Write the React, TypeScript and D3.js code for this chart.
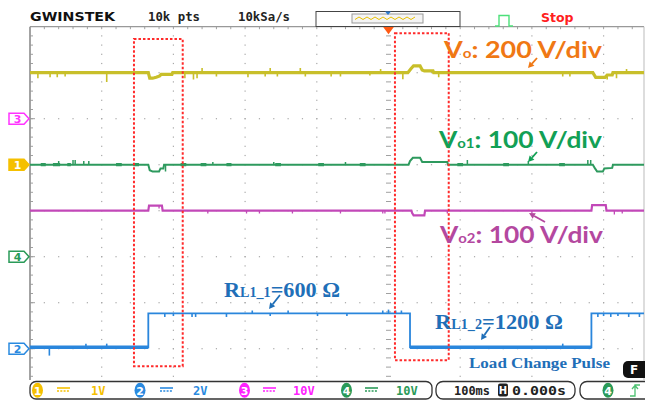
import React from 'react';
import * as d3 from 'd3';

// scope screen: 100 ms/div, trigger at centre, 8 vertical divisions
const timeDomain = [-500, 500];
const divDomain = [-4, 4];
const gridTimes = [-400, -300, -200, -100, 0, 100, 200, 300];
const gridLevels = [-3, -2, -1, 0, 1, 2, 3];

// traces as [time ms, level div]
const voTrace = [[-500, 3], [-335, 3], [-333, 2.88], [-329, 2.88], [-324, 2.9], [-319, 2.93], [-317, 2.965], [-302, 2.965], [-301, 3], [27, 3], [31, 3.08], [35, 3.15], [44, 3.15], [47, 3.06], [50, 3.04], [62, 3.04], [63, 3], [285, 3], [289, 2.9], [302, 2.9], [305, 2.95], [312, 2.95], [313, 3], [500, 3]];
const vo1Trace = [[-500, 1], [-335, 1], [-333, 0.88], [-329, 0.85], [-320, 0.85], [-318, 0.92], [-314, 0.92], [-313, 1], [28, 1], [30, 1.08], [34, 1.15], [44, 1.15], [47, 1.06], [82, 1.06], [83, 1], [285, 1], [288, 0.92], [291, 0.85], [299, 0.85], [301, 0.92], [312, 0.93], [313, 1], [500, 1]];
const vo2Trace = [[-500, 0], [-335, 0], [-334, 0.11], [-316, 0.11], [-315, 0], [32, 0], [33, -0.05], [35, -0.1], [50, -0.1], [51, 0], [283, 0], [284, 0.12], [303, 0.12], [304, 0], [500, 0]];
const loadTrace = [[-500, -2.97], [-335, -2.97], [-335, -2.23], [30, -2.23], [30, -2.97], [283, -2.97], [283, -2.23], [500, -2.23]];

// glitches on the traces: [time ms, height div]
const voSpikes = [[-489, -0.12], [-472, -0.1], [-462, -0.1], [-451, -0.08], [-393, -0.2], [-284, -0.12], [-272, -0.15], [-267, -0.12], [-260, 0.1], [-240, -0.08], [-196, -0.1], [-172, -0.08], [-165, 0.1], [-155, -0.08], [-123, 0.1], [-116, -0.08], [-80, -0.08], [-67, -0.08], [-26, -0.06], [-11, 0.08], [20, -0.14], [70, -0.1], [243, -0.08], [253, -0.08], [305, -0.1], [318, -0.12], [332, 0.08]];
const vo1Spikes = [[-460, 0.08], [-440, 0.1], [-437, 0.1], [-425, 0.08], [-418, 0.08], [-311, -0.15], [-245, 0.06], [-160, 0.06], [-60, 0.06], [110, 0.1], [195, 0.08], [278, 0.1], [282, 0.1]];
const vo2Spikes = [[-320, -0.06], [-252, -0.06], [-198, -0.06], [-180, -0.06], [-134, -0.06], [-67, -0.06], [-8, -0.06], [-5, -0.06], [82, -0.06], [200, -0.06], [315, -0.08], [326, -0.06]];
const loadSpikes = [[-473, -0.18], [-422, 0.08], [-393, 0.08], [-312, -0.08], [-300, -0.06], [-274, -0.08], [-269, -0.08], [-226, -0.08], [-190, 0.06], [-165, -0.06], [-140, 0.06], [-99, -0.06], [-58, -0.06], [-8, 0.06], [0, 0.08], [10, 0.06], [18, 0.06], [243, 0.08], [292, -0.08], [300, -0.06], [310, -0.08], [320, -0.06], [335, -0.08], [350, -0.08]];
// short noisy stretches on Vo1: [t0, t1]
const vo1Noise = [[-485, -478], [-468, -458], [-448, -443], [-380, -372], [-356, -348], [-290, -282], [-262, -254], [-226, -219], [-158, -150], [-98, -90], [-40, -32], [96, 104], [160, 168], [238, 246]];

// red boxes around the load steps: [t0, t1, top div, bottom div]
const stepBoxes = [[-355, -287, 3.73, -3.38], [9, 84, 3.86, -3.25]];

const channelMarkers = [
  { ch: '3', level: 2, color: '#ff33ff', filled: false },
  { ch: '1', level: 1, color: '#f5c000', filled: true },
  { ch: '4', level: -1, color: '#2a9a58', filled: false },
  { ch: '2', level: -3, color: '#2a8ae0', filled: false },
];
const statusChannels = [
  { ch: '1', scale: '1V', color: '#f5c000', cx: 37.5, icon: 57, tx: 91 },
  { ch: '2', scale: '2V', color: '#2a8ae0', cx: 140, icon: 160, tx: 193 },
  { ch: '3', scale: '10V', color: '#ff22ff', cx: 244.5, icon: 263, tx: 293 },
  { ch: '4', scale: '10V', color: '#2a9a58', cx: 346.5, icon: 365, tx: 396 },
];
const timebase = '100ms';
const hPosition = '0.000s';

function valueAt(trace: number[][], t: number) {
  const i = d3.bisector((d: number[]) => d[0]).right(trace, t);
  if (i <= 0) return trace[0][1];
  if (i >= trace.length) return trace[trace.length - 1][1];
  const a = trace[i - 1], b = trace[i];
  if (b[0] === a[0]) return b[1];
  return a[1] + (b[1] - a[1]) * (t - a[0]) / (b[0] - a[0]);
}

function Arrow({ from, to, color }: { from: number[]; to: number[]; color: string }) {
  const ang = Math.atan2(to[1] - from[1], to[0] - from[0]);
  const s = 6, w = 3.2;
  const bx = to[0] - s * Math.cos(ang), by = to[1] - s * Math.sin(ang);
  const p = [
    [to[0], to[1]],
    [bx + w * Math.sin(ang), by - w * Math.cos(ang)],
    [bx - w * Math.sin(ang), by + w * Math.cos(ang)],
  ];
  return (
    <g>
      <line x1={from[0]} y1={from[1]} x2={bx} y2={by} stroke={color} strokeWidth={1.8} />
      <polygon points={p.map(q => q.join(',')).join(' ')} fill={color} />
    </g>
  );
}

export default function App() {
  const W = 645, H = 402;
  const left = 30, top = 26.7, right = 644, bottom = 394.7;
  const x = d3.scaleLinear().domain(timeDomain).range([30, 747]);
  const y = d3.scaleLinear().domain(divDomain).range([bottom, top]);
  const line = d3.line<number[]>().x(d => x(d[0])).y(d => y(d[1]));
  const minorX = (x(100) - x(0)) / 5;
  const minorY = (y(0) - y(1)) / 5;
  const mono = '"DejaVu Sans Mono", monospace';

  const rowDots: number[][] = [];
  gridLevels.forEach(l => {
    for (let px = left + minorX; px < right; px += minorX) rowDots.push([px, y(l)]);
  });
  const colDots: number[][] = [];
  gridTimes.filter(t => t !== 0).forEach(t => {
    for (let py = top + minorY; py < 381; py += minorY) colDots.push([x(t), py]);
  });
  const centreTicks = d3.range(top + minorY, 381, minorY);
  const leftTicks = d3.range(top + minorY, 381, minorY);
  const topTicks = d3.range(left + minorX, right, minorX);

  const spikes = (trace: number[][], list: number[][], color: string, w: number) =>
    list.map((s, i) => (
      <line key={i} x1={x(s[0])} x2={x(s[0])} y1={y(valueAt(trace, s[0]))} y2={y(valueAt(trace, s[0]) + s[1])}
        stroke={color} strokeWidth={w} />
    ));

  // thick parts of the load trace (low level)
  const lowSegments: number[][][] = [];
  for (let i = 0; i < loadTrace.length - 1; i++) {
    const a = loadTrace[i], b = loadTrace[i + 1];
    if (a[1] === b[1] && a[1] < -2.5) lowSegments.push([a, b]);
  }

  return (
    <svg width={W} height={H} style={{ position: 'absolute', left: 0, top: 0, background: '#fff' }}
      fontFamily='"DejaVu Sans", sans-serif'>
      <defs>
        <clipPath id="screen">
          <rect x={left} y={top} width={right - left} height={381 - top} />
        </clipPath>
      </defs>
      <rect width={W} height={H} fill="#fff" />

      {/* grid */}
      <g fill="#a8a8a8">
        {rowDots.map((d, i) => <rect key={'r' + i} x={d[0] - 0.6} y={d[1] - 0.6} width={1.2} height={1.2} />)}
        {colDots.map((d, i) => <rect key={'c' + i} x={d[0] - 0.6} y={d[1] - 0.6} width={1.2} height={1.2} />)}
      </g>
      <g stroke="#a0a0a0" strokeWidth={1}>
        {centreTicks.map((py, i) => <line key={i} x1={x(0) - 2.5} x2={x(0) + 2.5} y1={py} y2={py} />)}
        {leftTicks.map((py, i) => <line key={'l' + i} x1={left} x2={left + 3} y1={py} y2={py} />)}
        {topTicks.map((px, i) => <line key={'t' + i} x1={px} x2={px} y1={top} y2={top + 2.5} />)}
        {gridLevels.map(l => <line key={'m' + l} x1={left} x2={left + 5} y1={y(l)} y2={y(l)} />)}
      </g>
      <line x1={left} x2={right} y1={top} y2={top} stroke="#999" strokeWidth={1.2} />
      <line x1={left} x2={left} y1={top} y2={381} stroke="#999" strokeWidth={1.8} />
      <line x1={right} x2={right} y1={top} y2={381} stroke="#bbb" strokeWidth={1} />

      {/* traces */}
      <g clipPath="url(#screen)" fill="none">
        <path d={line(voTrace) ?? ''} stroke="#c8bf2a" strokeWidth={3.2} />
        {spikes(voTrace, voSpikes, '#c8bf2a', 1.6)}
        <path d={line(vo1Trace) ?? ''} stroke="#2e9a5e" strokeWidth={2} />
        {vo1Noise.map((n, i) => (
          <line key={'n' + i} x1={x(n[0])} x2={x(n[1])} y1={y(valueAt(vo1Trace, n[0]))} y2={y(valueAt(vo1Trace, n[1]))}
            stroke="#2e9a5e" strokeWidth={3.2} />
        ))}
        {spikes(vo1Trace, vo1Spikes, '#2e9a5e', 1.5)}
        <path d={line(vo2Trace) ?? ''} stroke="#c248b8" strokeWidth={2.2} />
        {spikes(vo2Trace, vo2Spikes, '#c248b8', 1.3)}
        <path d={line(loadTrace) ?? ''} stroke="#2a86dc" strokeWidth={1.8} />
        {lowSegments.map((s, i) => <path key={i} d={line(s) ?? ''} stroke="#2a86dc" strokeWidth={3.6} />)}
        {spikes(loadTrace, loadSpikes, '#2a86dc', 1.6)}
      </g>

      {/* load step boxes */}
      {stepBoxes.map((b, i) => (
        <rect key={i} x={x(b[0])} y={y(b[2])} width={x(b[1]) - x(b[0])} height={y(b[3]) - y(b[2])}
          fill="none" stroke="#ff2a2a" strokeWidth={2} strokeDasharray="2.5 2" />
      ))}

      {/* trigger marker */}
      <polygon points={`${x(0) - 5.5},${top} ${x(0) + 5.5},${top} ${x(0)},${top + 7.5}`} fill="#ff5a14" />

      {/* channel markers */}
      {channelMarkers.map(m => {
        const cy = y(m.level);
        return (
          <g key={m.ch}>
            <polygon points={`9,${cy - 5.5} 24,${cy - 5.5} 29,${cy} 24,${cy + 5.5} 9,${cy + 5.5}`}
              fill={m.filled ? m.color : '#fff'} stroke={m.color} strokeWidth={1.5} />
            <text x={17.5} y={cy + 4} textAnchor="middle" fontSize={11} fontWeight="bold"
              fill={m.filled ? '#fff' : m.color}>{m.ch}</text>
          </g>
        );
      })}

      {/* top bar */}
      <text x={30} y={21} fontSize={13} fontWeight="bold" fill="#111" textLength={85} lengthAdjust="spacingAndGlyphs">GWINSTEK</text>
      <text x={148} y={21} fontFamily={mono} fontSize={12} fontWeight="bold" fill="#222" textLength={52} lengthAdjust="spacingAndGlyphs">10k pts</text>
      <text x={238} y={21} fontFamily={mono} fontSize={12} fontWeight="bold" fill="#222" textLength={52} lengthAdjust="spacingAndGlyphs">10kSa/s</text>
      <rect x={316} y={11.5} width={144} height={15} fill="#fff" stroke="#444" strokeWidth={1} />
      <rect x={352} y={14} width={71} height={9} fill="#f4f4f4" stroke="#999" strokeWidth={1} />
      <path d={d3.range(0, 16).map(i => `${i === 0 ? 'M' : 'L'}${355 + i * 4},${i % 2 ? 17 : 19.5}`).join(' ')}
        fill="none" stroke="#e8c000" strokeWidth={1} />
      <polygon points="385,11.5 391,11.5 388,15" fill="#2a7ad0" />
      <path d="M495,26 H499 V15.5 H509 V26 H513" fill="none" stroke="#4de07a" strokeWidth={1.4} />
      <text x={541} y={21.5} fontSize={12.5} fontWeight="bold" fill="#ff2020">Stop</text>

      {/* annotations */}
      <text x={444} y={58} fill="#f07814" fontFamily="Lato, sans-serif" fontWeight="bold" fontSize={23}
        textLength={158} lengthAdjust="spacingAndGlyphs">V<tspan fontSize={13}>o</tspan>: 200 V/div</text>
      <Arrow from={[537, 58]} to={[528, 68]} color="#f07814" />
      <text x={439} y={148} fill="#12a055" fontFamily="Lato, sans-serif" fontWeight="bold" fontSize={23}
        textLength={163} lengthAdjust="spacingAndGlyphs">V<tspan fontSize={13}>o1</tspan>: 100 V/div</text>
      <Arrow from={[537, 152]} to={[528, 162]} color="#12a055" />
      <text x={440} y={243} fill="#b4489f" fontFamily="Lato, sans-serif" fontWeight="bold" fontSize={23}
        textLength={163} lengthAdjust="spacingAndGlyphs">V<tspan fontSize={13}>o2</tspan>: 100 V/div</text>
      <Arrow from={[545, 222]} to={[529, 213]} color="#b4489f" />

      <text x={224} y={297} fill="#1f6fb8" fontFamily='"Liberation Serif", serif' fontWeight="bold" fontSize={22}
        textLength={116} lengthAdjust="spacingAndGlyphs">R<tspan fontSize={14}>L1_1</tspan>=600 Ω</text>
      <Arrow from={[280, 295]} to={[269, 309]} color="#1f6fb8" />
      <text x={435} y={329} fill="#1f6fb8" fontFamily='"Liberation Serif", serif' fontWeight="bold" fontSize={22}
        textLength={128} lengthAdjust="spacingAndGlyphs">R<tspan fontSize={14}>L1_2</tspan>=1200 Ω</text>
      <Arrow from={[490, 327]} to={[481, 340]} color="#1f6fb8" />
      <text x={469} y={368} fill="#1f6fb8" fontFamily='"Liberation Serif", serif' fontWeight="bold" fontSize={15}
        textLength={141} lengthAdjust="spacingAndGlyphs">Load Change Pulse</text>

      {/* F button */}
      <rect x={623} y={361} width={28} height={17} rx={5} fill="#111" />
      <text x={634} y={374} fontSize={12} fontWeight="bold" fill="#fff" textAnchor="middle">F</text>

      {/* status bar */}
      <rect x={0} y={380} width={W} height={22} fill="#fff" />
      <rect x={30} y={381.5} width={402} height={17.5} rx={6} fill="#fff" stroke="#333" strokeWidth={1.3} />
      <rect x={436} y={381.5} width={139} height={17.5} rx={7} fill="#fff" stroke="#333" strokeWidth={1.3} />
      <rect x={580} y={381.5} width={80} height={17.5} rx={7} fill="#fff" stroke="#333" strokeWidth={1.3} />
      {statusChannels.map(c => (
        <g key={c.ch}>
          <ellipse cx={c.cx} cy={390.3} rx={5.5} ry={7.5} fill={c.color} />
          <text x={c.cx} y={394.5} textAnchor="middle" fontSize={11} fontWeight="bold" fill="#fff">{c.ch}</text>
          <line x1={c.icon} x2={c.icon + 13} y1={388} y2={388} stroke={c.color} strokeWidth={1.6} />
          <line x1={c.icon} x2={c.icon + 13} y1={391} y2={391} stroke={c.color} strokeWidth={1.6} strokeDasharray="2 1.3" />
          <text x={c.tx} y={395} fontFamily={mono} fontSize={12} fontWeight="bold" fill={c.color}>{c.scale}</text>
        </g>
      ))}
      <text x={454} y={395} fontFamily={mono} fontSize={12} fontWeight="bold" fill="#222" textLength={36} lengthAdjust="spacingAndGlyphs">{timebase}</text>
      <rect x={498} y={383.5} width={10} height={13} rx={2} fill="#222" />
      <text x={503} y={394} textAnchor="middle" fontSize={10} fontWeight="bold" fill="#fff">H</text>
      <text x={512} y={395} fontFamily={mono} fontSize={12} fontWeight="bold" fill="#222" textLength={54} lengthAdjust="spacingAndGlyphs">{hPosition}</text>
      <ellipse cx={608} cy={390.3} rx={5.5} ry={7.5} fill="#2a9a58" />
      <text x={608} y={394.5} textAnchor="middle" fontSize={11} fontWeight="bold" fill="#fff">4</text>
      <path d="M630,396 H635 V385 H640 M632,389 L635,385.5 L638,389" fill="none" stroke="#4cc070" strokeWidth={1.3} />
    </svg>
  );
}
